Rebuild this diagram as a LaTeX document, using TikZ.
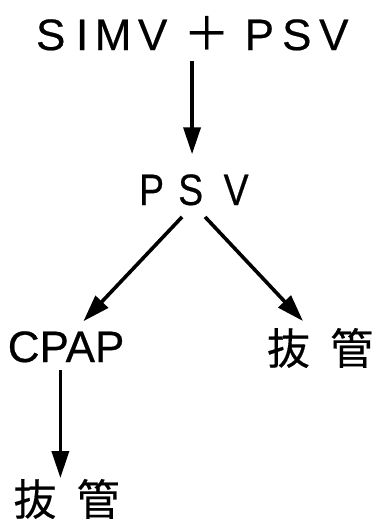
\documentclass[tikz,border=0pt]{standalone}
\usepackage{fontspec}
\setmainfont{Liberation Sans}[FakeBold=0.5]
\newfontfamily\cjk{Noto Sans CJK JP}[FakeBold=0.4]
\usetikzlibrary{arrows.meta,calc}
\tikzset{
  lbl/.style={inner sep=0pt, outer sep=0pt, font=\fontsize{44}{48}\selectfont},
  jlbl/.style={inner sep=0pt, outer sep=0pt, font=\fontsize{43}{48}\selectfont\cjk},
  arr/.style={line width=3.6pt, -{Triangle[length=27pt,width=17pt]}},
}
\begin{document}
\begin{tikzpicture}[x=1pt,y=-1pt]
\useasboundingbox (0,0) rectangle (376,520);
% mode sequence
\node[lbl, anchor=base west] (simv) at (36,50)
  {S\hspace{10.7pt}I\hspace{6.5pt}M\hspace{6.6pt}V\hspace{16.3pt}{\cjk\fontsize{46}{48}\selectfont ＋}\hspace{15pt}P\hspace{8.1pt}S\hspace{7.7pt}V};
\node[lbl, anchor=base west, xscale=0.85] (psv) at (139.1,205)
  {P\hspace{16.7pt}S\hspace{24.1pt}V};
\node[lbl, anchor=base west] (cpap) at (7.8,362) {CPAP};
\node[jlbl] (ext1) at (320,348) {抜\hspace{0.47em}管};
\node[jlbl] (ext2) at (66.5,499) {抜\hspace{0.47em}管};
% transitions
\draw[arr] ($(psv.north |- simv.south)+(-1.8,11)$) -- ($(psv.north)+(-1.8,-20)$);
\draw[arr] ($(psv.south)+(-11.8,11.5)$) -- ($(cpap.north)+(17.3,-10)$);
\draw[arr] ($(psv.south)+(11.2,11.5)$) -- ($(ext1.north)+(-17,-7)$);
\draw[arr] ($(cpap.south)+(-5.7,7.5)$) -- ($(cpap.south |- ext2.north)+(-5.7,-1)$);
\end{tikzpicture}
\end{document}
